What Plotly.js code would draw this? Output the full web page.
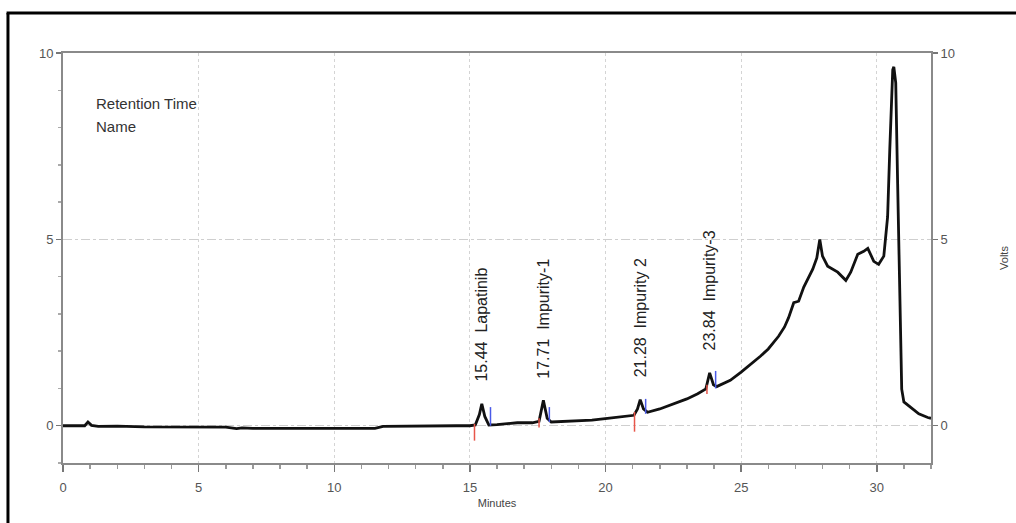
<!DOCTYPE html>
<html>
<head>
<meta charset="utf-8">
<script src="https://cdn.plot.ly/plotly-3.0.1.min.js"></script>
<style>
  html, body { margin: 0; padding: 0; background: #ffffff; }
  #chart { width: 1016px; height: 523px; }
</style>
</head>
<body>
<div id="chart"></div>
<script>
// Chromatogram trace: retention time (min) vs detector signal (V)
const timeMin = [0, 0.5, 0.8, 0.92, 1.05, 1.3, 2, 3, 4, 5, 6, 6.4, 6.6, 7, 8, 9, 10, 11, 11.5, 11.8,
  12.5, 13.5, 14.5, 15.0, 15.2, 15.35, 15.44, 15.55, 15.7, 16, 16.75, 17.3, 17.55, 17.71, 17.85, 18.0,
  18.8, 19.5, 20.07, 20.6, 21.05, 21.18, 21.28, 21.4, 21.55, 22.0, 22.5, 23.0, 23.4, 23.7, 23.84, 23.98,
  24.1, 24.6, 25.0, 25.46, 25.72, 26.0, 26.38, 26.6, 26.75, 26.94, 27.12, 27.31, 27.5, 27.64, 27.79,
  27.9, 28.0, 28.19, 28.56, 28.86, 29.04, 29.3, 29.52, 29.67, 29.89, 30.07, 30.26, 30.4, 30.48, 30.59,
  30.63, 30.7, 30.77, 30.85, 30.92, 31.0, 31.25, 31.55, 31.88, 32];
const volts = [0, -0.01, 0.0, 0.1, 0.01, -0.02, -0.01, -0.03, -0.03, -0.03, -0.04, -0.08, -0.06, -0.07,
  -0.07, -0.07, -0.08, -0.07, -0.07, -0.02, -0.01, -0.01, 0.0, 0.0, 0.02, 0.3, 0.59, 0.25, 0.02, 0.03,
  0.08, 0.08, 0.12, 0.68, 0.2, 0.1, 0.12, 0.15, 0.2, 0.24, 0.28, 0.45, 0.7, 0.45, 0.36, 0.45, 0.58,
  0.72, 0.86, 0.99, 1.42, 1.1, 1.05, 1.22, 1.44, 1.71, 1.87, 2.06, 2.4, 2.65, 2.9, 3.3, 3.34, 3.72, 4.0,
  4.2, 4.5, 5.0, 4.55, 4.28, 4.12, 3.9, 4.12, 4.6, 4.68, 4.76, 4.41, 4.33, 4.55, 5.6, 7.4, 9.55, 9.63,
  9.2, 6.5, 2.95, 0.98, 0.64, 0.5, 0.32, 0.22, 0.2];

// Identified peaks
const peakTimes = [15.44, 17.71, 21.28, 23.84];
const peakNames = ['Lapatinib', 'Impurity-1', 'Impurity 2', 'Impurity-3'];

// Integration start (red) and end (blue) event marks: time, low, high (V)
const startTimes = [15.17, 17.55, 21.07, 23.74];
const startLow = [-0.4, -0.05, -0.16, 0.85];
const startHigh = [0.05, 0.2, 0.37, 1.1];
const endTimes = [15.76, 17.93, 21.48, 24.06];
const endLow = [0.0, 0.1, 0.32, 1.0];
const endHigh = [0.5, 0.5, 0.72, 1.47];

const xTickVals = [0, 5, 10, 15, 20, 25, 30];
const yTickVals = [0, 5, 10];

function segments(ts, lo, hi) {
  const x = [], y = [];
  ts.forEach((t, i) => { x.push(t, t, null); y.push(lo[i], hi[i], null); });
  return { x, y };
}
const startSeg = segments(startTimes, startLow, startHigh);
const endSeg = segments(endTimes, endLow, endHigh);

const traces = [
  {
    x: timeMin, y: volts, type: 'scatter', mode: 'lines',
    line: { color: '#111111', width: 2.8 }, hoverinfo: 'x+y', yaxis: 'y'
  },
  {
    x: startSeg.x, y: startSeg.y, type: 'scatter', mode: 'lines',
    line: { color: '#e8564a', width: 1.5 }, hoverinfo: 'skip', yaxis: 'y2'
  },
  {
    x: endSeg.x, y: endSeg.y, type: 'scatter', mode: 'lines',
    line: { color: '#4a5ae8', width: 1.5 }, hoverinfo: 'skip', yaxis: 'y2'
  }
];

const FONT = 'Liberation Sans, Arial, sans-serif';
const labelFont = { family: FONT, size: 16, color: '#222222' };
const annotations = peakTimes.map((t, i) => {
  const idx = timeMin.indexOf(t);
  return {
    x: t, y: volts[idx], xref: 'x', yref: 'y',
    text: t.toFixed(2) + '\u00A0\u00A0' + peakNames[i],
    textangle: -90, showarrow: false,
    xanchor: 'center', yanchor: 'bottom', yshift: 20,
    font: labelFont
  };
});
annotations.push(
  { x: 0.036, y: 0.878, xref: 'paper', yref: 'paper', text: 'Retention Time', showarrow: false,
    xanchor: 'left', yanchor: 'middle', font: { family: FONT, size: 15, color: '#333333' } },
  { x: 0.036, y: 0.82, xref: 'paper', yref: 'paper', text: 'Name', showarrow: false,
    xanchor: 'left', yanchor: 'middle', font: { family: FONT, size: 15, color: '#333333' } }
);

const axisFont = { family: FONT, size: 13, color: '#555555' };

const layout = {
  width: 1016, height: 523,
  margin: { l: 63, r: 85, t: 53, b: 60 },
  paper_bgcolor: '#ffffff', plot_bgcolor: '#ffffff',
  showlegend: false,
  font: axisFont,
  xaxis: {
    range: [0, 32], tickvals: xTickVals, ticks: 'outside', ticklen: 7, tickwidth: 1.5,
    tickcolor: '#777777', showline: true, linecolor: '#8a8a8a', linewidth: 2, mirror: true,
    showgrid: true, gridcolor: '#d4d4d4', griddash: 'dot', gridwidth: 1, zeroline: false,
    minor: { dtick: 1, ticks: 'outside', ticklen: 4, tickcolor: '#999999', showgrid: false },
    tickfont: axisFont, ticklabelstandoff: 4,
    title: { text: 'Minutes', font: { family: FONT, size: 11, color: '#444444' }, standoff: 6 }
  },
  yaxis: {
    range: [-1, 10], tickvals: yTickVals, ticks: 'outside', ticklen: 5, tickwidth: 1.5,
    tickcolor: '#777777', showline: true, linecolor: '#8a8a8a', linewidth: 2, mirror: true,
    showgrid: true, gridcolor: '#cfcfcf', griddash: 'dashdot', gridwidth: 1, zeroline: false,
    minor: { dtick: 1, ticks: 'outside', ticklen: 3, tickcolor: '#aaaaaa', showgrid: false },
    tickfont: axisFont
  },
  yaxis2: {
    range: [-1, 10], tickvals: yTickVals, overlaying: 'y', side: 'right', anchor: 'x',
    ticks: 'outside', ticklen: 5, tickwidth: 1.5, tickcolor: '#777777',
    showline: true, linecolor: '#8a8a8a', linewidth: 2, showgrid: false, zeroline: false,
    tickfont: axisFont,
    title: { text: 'Volts', font: { family: FONT, size: 11, color: '#444444' }, standoff: 46 }
  },
  annotations: annotations,
  shapes: [
    { type: 'line', xref: 'paper', yref: 'paper', x0: -0.0634, x1: -0.0634, y0: -0.16, y1: 1.0976,
      line: { color: '#000000', width: 3 } },
    { type: 'line', xref: 'paper', yref: 'paper', x0: -0.065, x1: 1.1, y0: 1.0976, y1: 1.0976,
      line: { color: '#000000', width: 3 } }
  ]
};

Plotly.newPlot('chart', traces, layout, { displayModeBar: false, staticPlot: true });
</script>
</body>
</html>
